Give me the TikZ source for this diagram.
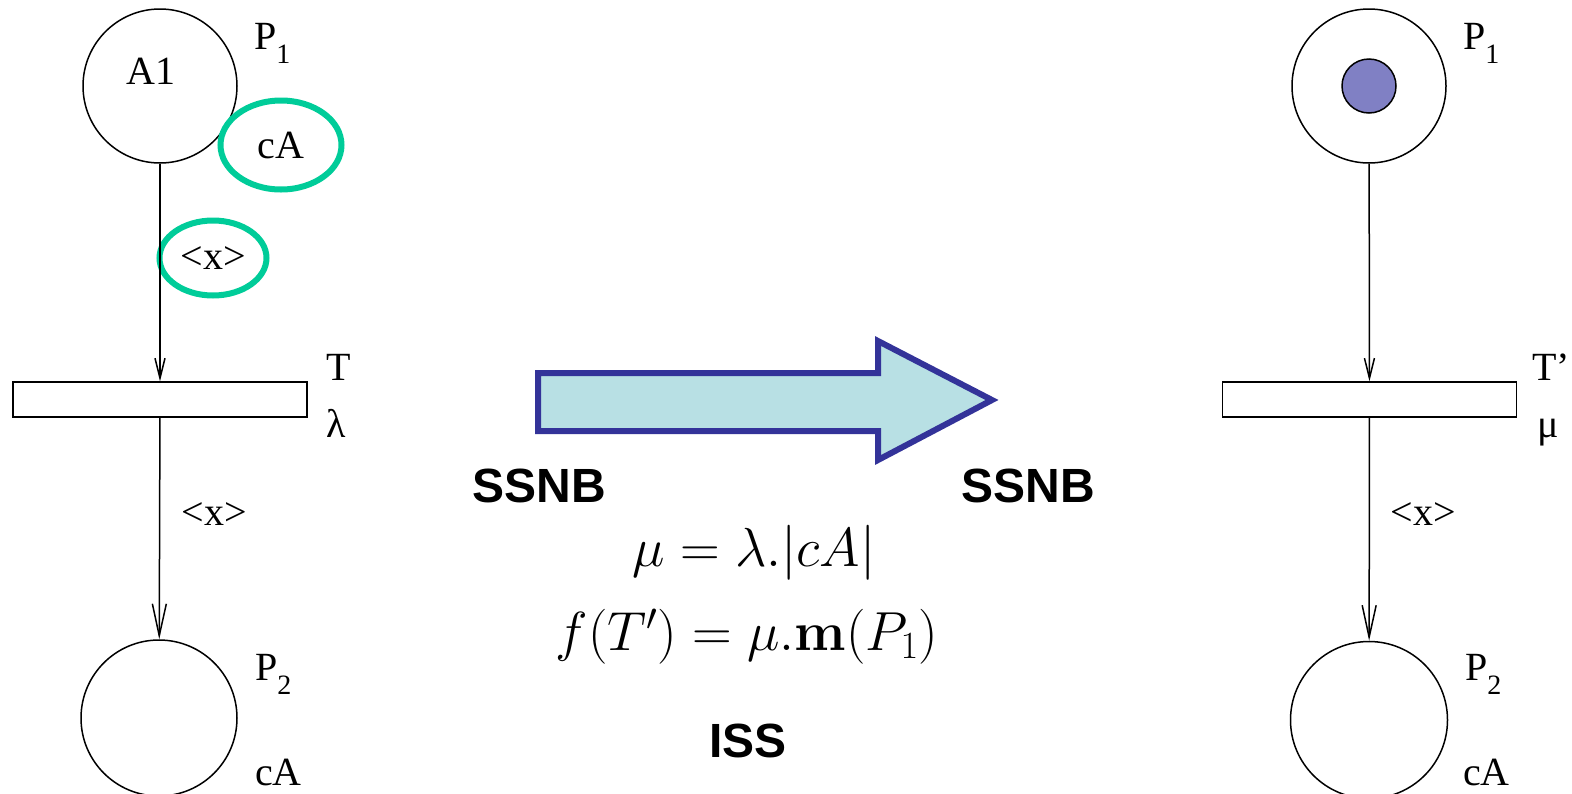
\RequirePackage{fix-cm}
\documentclass[tikz,border=0pt]{standalone}
\usepackage[no-math]{fontspec}
\setmainfont{Liberation Serif}
\newfontfamily\headsans{Liberation Sans}
\usetikzlibrary{arrows.meta,positioning,shapes.geometric}

\definecolor{ringgreen}{RGB}{0,204,153}
\definecolor{bigblue}{RGB}{51,51,153}
\definecolor{bigfill}{RGB}{184,224,228}
\definecolor{tokenblue}{RGB}{128,128,196}

\newcommand\lowsub[1]{\raisebox{-14pt}{\fontsize{28}{28}\selectfont #1}}

\begin{document}
\begin{tikzpicture}[x=1pt,y=-1pt,
    place/.style={circle, draw, line width=1.5pt, minimum size=154pt, inner sep=0pt},
    trans/.style={rectangle, draw, line width=1.5pt, minimum width=294pt, minimum height=35pt, inner sep=0pt},
    arcin/.style={line width=1.5pt, -{Straight Barb[length=20pt,width=10pt,line width=1.5pt]}},
    arcout/.style={line width=1.5pt, -{Straight Barb[length=32pt,width=14pt,line width=1.5pt]}},
    lbl/.style={font=\fontsize{40}{40}\selectfont, inner sep=0pt},
    ring/.style={ellipse, draw=ringgreen, line width=6pt, inner sep=0pt, font=\fontsize{40}{40}\selectfont},
    bigtext/.style={font=\headsans\bfseries\fontsize{48}{48}\selectfont, inner sep=0pt, anchor=base},
    formula/.style={font=\fontsize{55}{55}\selectfont, inner sep=0pt, anchor=base}]
    \useasboundingbox (0,0) rectangle (1572,793);

    % left net
    \node[place] (p1a) at (160,86) {};
    \node[lbl, anchor=base] (a1) at (151,84) {A1};
    \node[lbl, anchor=base west] (p1alab) at (254,49) {P\lowsub{1}};
    \node[ring, minimum width=121pt, minimum height=89pt] (ca) at (281,145) {cA};
    \node[ring, minimum width=107pt, minimum height=75pt] (xin) at (213,258) {<x>};
    \node[trans] (ta) at (160,399.5) {};
    \node[lbl, anchor=base west] (talab) at (326,380) {T};
    \node[lbl, anchor=base west] (lambda) at (326,437) {λ};
    \node[lbl, anchor=base] (xouta) at (214,525) {<x>};
    \node[place, minimum size=156pt] (p2a) at (159,718) {};
    \node[lbl, anchor=base west] (p2alab) at (255,680) {P\lowsub{2}};
    \node[lbl, anchor=base west] (ca2a) at (255,785) {cA};
    \draw[arcin] (p1a) -- (ta);
    \draw[arcout] (ta) -- (p2a);

    % transformation arrow
    \draw[bigblue, fill=bigfill, line width=6pt, line join=miter]
        (538,373) -- (878,373) -- (878,341) -- (992,400) -- (878,460) -- (878,431) -- (538,431) -- cycle;
    \node[bigtext] (ssnba) at (539,502) {SSNB};
    \node[bigtext] (ssnbb) at (1028,502) {SSNB};
    \node[formula] (rate) at (754,566) {$\mu=\lambda.|cA|$};
    \node[formula] (fire) at (747,650) {$f(T')=\mu.\mathbf{m}(P_1)$};
    \node[bigtext] (iss) at (748,757) {ISS};

    % right net
    \node[place] (p1b) at (1369,86) {};
    \node[circle, draw, fill=tokenblue, line width=1.5pt, minimum size=54pt, inner sep=0pt] (token) at (1369,86) {};
    \node[lbl, anchor=base west] (p1blab) at (1463,49) {P\lowsub{1}};
    \node[trans] (tb) at (1369.5,399.5) {};
    \node[lbl, anchor=base west] (tblab) at (1532,380) {T’};
    \node[lbl, anchor=base west] (mu) at (1537,437) {μ};
    \node[lbl, anchor=base] (xoutb) at (1423,525) {<x>};
    \node[place, minimum size=157pt] (p2b) at (1369,720) {};
    \node[lbl, anchor=base west] (p2blab) at (1465,680) {P\lowsub{2}};
    \node[lbl, anchor=base west] (ca2b) at (1463,785) {cA};
    \draw[arcin] (p1b) -- (tb);
    \draw[arcout] (tb) -- (p2b);
\end{tikzpicture}
\end{document}
